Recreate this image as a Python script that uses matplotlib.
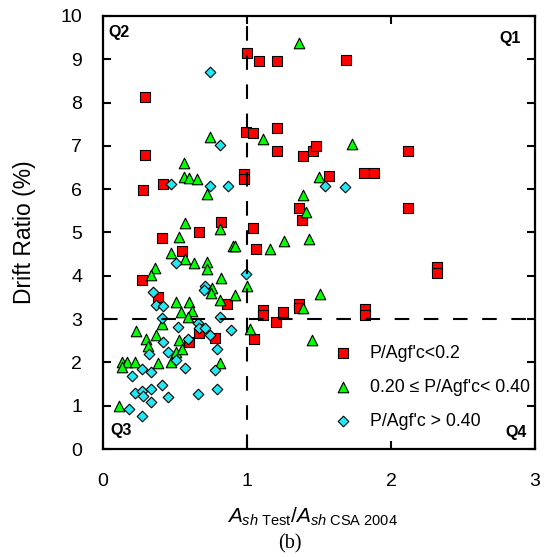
import matplotlib
matplotlib.use("Agg")
import matplotlib.pyplot as plt

plt.rcParams['font.family'] = ['Liberation Sans', 'DejaVu Sans']
plt.rcParams['mathtext.fontset'] = 'custom'
plt.rcParams['mathtext.rm'] = 'Liberation Sans'
plt.rcParams['mathtext.it'] = 'Liberation Sans:italic'

# P/Agf'c < 0.2
red_x = [1.00, 1.08, 1.21, 1.69, 0.29, 0.99, 1.04, 1.21, 0.29, 1.21, 1.39, 1.46,
         1.48, 2.12, 0.42, 0.28, 0.98, 0.98, 1.57, 1.81, 1.88, 0.82, 1.04, 0.41,
         0.67, 0.55, 1.06, 1.36, 1.38, 2.12, 0.27, 2.32, 2.32, 0.38, 0.86, 1.11,
         1.11, 1.25, 1.20, 1.36, 1.36, 1.82, 1.82, 0.60, 0.67, 0.78, 1.05]
red_y = [9.14, 8.97, 8.97, 8.98, 8.14, 7.33, 7.29, 7.41, 6.79, 6.89, 6.77, 6.89,
         7.00, 6.89, 6.13, 5.97, 6.35, 6.24, 6.30, 6.38, 6.38, 5.25, 5.11, 4.87,
         5.00, 4.58, 4.62, 5.56, 5.30, 5.56, 3.90, 4.20, 4.06, 3.52, 3.35, 3.21,
         3.09, 3.16, 2.94, 3.36, 3.25, 3.23, 3.09, 2.46, 2.67, 2.57, 2.54]

# 0.20 <= P/Agf'c < 0.40
green_x = [1.36, 0.74, 1.11, 1.73, 0.56, 0.56, 0.60, 0.65, 0.72, 1.50, 1.39, 1.41,
           0.57, 0.81, 0.53, 0.47, 0.57, 0.63, 0.72, 0.72, 0.90, 0.92, 1.16, 1.26,
           1.43, 0.36, 0.33, 0.82, 1.00, 0.76, 0.75, 0.92, 1.51, 1.39, 0.51, 0.60,
           0.81, 0.54, 0.62, 0.59, 0.41, 1.02, 0.23, 0.30, 0.37, 0.31, 0.53, 0.51,
           0.55, 0.13, 0.17, 0.22, 0.13, 0.38, 0.47, 0.81, 0.11, 1.45]
green_y = [9.38, 7.21, 7.15, 7.04, 6.60, 6.29, 6.27, 6.24, 5.90, 6.29, 5.87, 5.48,
           5.21, 5.07, 4.90, 4.53, 4.38, 4.30, 4.33, 4.15, 4.69, 4.69, 4.61, 4.81,
           4.84, 4.19, 4.02, 3.96, 3.76, 3.71, 3.60, 3.56, 3.58, 3.25, 3.39, 3.39,
           3.44, 3.17, 3.19, 3.06, 2.89, 2.78, 2.73, 2.53, 2.63, 2.39, 2.52, 2.25,
           2.30, 2.00, 2.00, 2.00, 1.89, 1.99, 2.02, 1.99, 1.00, 2.52]

# P/Agf'c > 0.40
cyan_x = [0.74, 0.81, 0.47, 0.74, 0.87, 1.54, 1.68, 0.51, 0.99, 0.71, 0.70, 0.35,
          0.37, 0.42, 0.41, 0.81, 0.52, 0.66, 0.67, 0.71, 0.74, 0.89, 0.42, 0.59,
          0.32, 0.45, 0.79, 0.51, 0.20, 0.27, 0.33, 0.57, 0.78, 0.22, 0.27, 0.28,
          0.33, 0.41, 0.33, 0.45, 0.66, 0.79, 0.18, 0.27]
cyan_y = [8.71, 7.03, 6.11, 6.08, 6.08, 6.08, 6.04, 4.29, 4.04, 3.76, 3.67, 3.63,
          3.33, 3.30, 3.03, 3.04, 2.82, 2.90, 2.79, 2.79, 2.63, 2.75, 2.46, 2.53,
          2.19, 2.25, 2.30, 2.06, 1.69, 1.85, 1.77, 1.86, 1.82, 1.29, 1.35, 1.22,
          1.38, 1.47, 1.09, 1.19, 1.27, 1.39, 0.92, 0.77]

labels = ["P/Agf'c<0.2", "0.20 \u2264 P/Agf'c< 0.40", "P/Agf'c > 0.40"]

fig = plt.figure(figsize=(5.44, 5.57), dpi=100)
ax = fig.add_axes([103 / 544, 1 - 449 / 557, 432 / 544, 433 / 557])

ax.scatter(red_x, red_y, marker='s', s=7.6 ** 2, c='#FF0000',
           edgecolors='black', linewidths=0.8, zorder=2, label=labels[0])
ax.scatter(green_x, green_y, marker='^', s=7.6 ** 2, c='#00FF00',
           edgecolors='black', linewidths=0.8, zorder=2, label=labels[1])
ax.scatter(cyan_x, cyan_y, marker='D', s=5.4 ** 2, c='#22E8F4',
           edgecolors='black', linewidths=0.8, zorder=2, label=labels[2])

ax.axvline(1, color='black', lw=1.5, ls=(0, (7, 7)), zorder=3)
ax.axhline(3, color='black', lw=1.5, ls=(0, (7, 7)), zorder=3)

ax.set_xlim(0, 3)
ax.set_ylim(0, 10)
ax.set_xticks([0, 1, 2, 3])
ax.set_yticks(range(0, 11))
ax.tick_params(direction='in', length=6, width=1.5, labelsize=14,
               top=True, right=True)
ax.tick_params(axis='x', pad=17)
ax.tick_params(axis='y', pad=15)
for sp in ax.spines.values():
    sp.set_linewidth(1.6)

ax.set_ylabel('Drift Ratio (%)', fontsize=16.5)
ax.yaxis.set_label_coords(-0.155, 0.5)
ax.set_xlabel(r'$A_{sh\ \mathrm{Test}}/A_{sh\ \mathrm{CSA\ 2004}}$', fontsize=15)
ax.xaxis.set_label_coords(0.484, -0.132)
fig.text(290 / 544, 1 - 544 / 557, '(b)', family='Liberation Serif', fontsize=14.5,
         ha='center', va='center')

qkw = dict(fontsize=11.5, fontweight='bold', va='center')
ax.text(0.035, 9.63, 'Q2', ha='left', **qkw)
ax.text(2.90, 9.48, 'Q1', ha='right', **qkw)
ax.text(0.049, 0.43, 'Q3', ha='left', **qkw)
ax.text(2.94, 0.39, 'Q4', ha='right', **qkw)

ax.legend(loc='upper left', bbox_to_anchor=(0.535, 0.24), frameon=False,
          fontsize=12.8, borderpad=0, borderaxespad=0, handlelength=1.0,
          handletextpad=1.0, labelspacing=0.95, scatterpoints=1)

fig.savefig('out.png', dpi=100)
